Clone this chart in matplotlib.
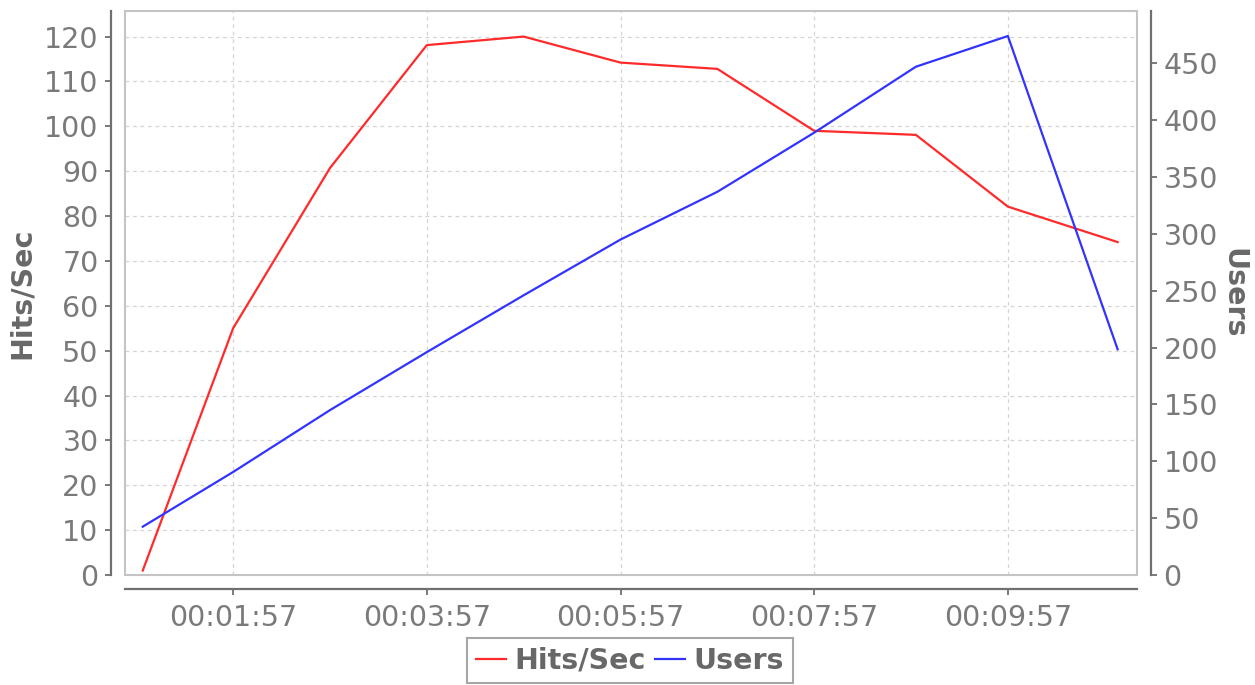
import matplotlib
matplotlib.use('Agg')
import matplotlib.pyplot as plt
from matplotlib.patches import Rectangle

# elapsed seconds for each sample
seconds = [61, 117, 177, 237, 297, 357, 417, 477, 540, 597, 665]
hits_per_sec = [1.0, 55.0, 90.7, 118.1, 120.0, 114.2, 112.8, 99.0, 98.1, 82.1, 74.2]
users = [42.5, 90.6, 145, 196, 246, 295, 337, 389, 447, 474, 198.5]

xtick_pos = [117, 237, 357, 477, 597]
xtick_labels = ['00:01:57', '00:03:57', '00:05:57', '00:07:57', '00:09:57']
left_ticks = list(range(0, 121, 10))
right_ticks = list(range(0, 451, 50))

text_grey = '#7a7a7a'
label_grey = '#686868'
spine_grey = '#707070'
fs = 20.5

fig = plt.figure(figsize=(12.55, 6.85), dpi=100)
ax = fig.add_axes([125 / 1255, 1 - 575 / 685, (1137 - 125) / 1255, (575 - 11) / 685])
ax2 = ax.twinx()

l1, = ax.plot(seconds, hits_per_sec, color='#ff2a2a', lw=1.6, label='Hits/Sec', zorder=3)
l2, = ax2.plot(seconds, users, color='#3333ff', lw=1.6, label='Users', zorder=3)

ax.set_xlim(50, 677)
ax.set_ylim(0, 125.7)
ax2.set_ylim(0, 496)

ax.set_xticks(xtick_pos)
ax.set_xticklabels(xtick_labels)
ax.set_yticks(left_ticks)
ax2.set_yticks(right_ticks)

# grid only from left axis
ax.grid(True, color='#d4d4d4', ls=(0, (3, 3)), lw=0.9)
ax.set_axisbelow(True)

# offset axis lines, light frame around the plot area
for a in (ax, ax2):
    for s in a.spines.values():
        s.set_visible(False)
ax.spines['left'].set_visible(True)
ax.spines['left'].set_position(('outward', 10))
ax.spines['bottom'].set_visible(True)
ax.spines['bottom'].set_position(('outward', 10))
ax2.spines['right'].set_visible(True)
ax2.spines['right'].set_position(('outward', 10))
for s in (ax.spines['left'], ax.spines['bottom'], ax2.spines['right']):
    s.set_color(spine_grey)
    s.set_linewidth(1.6)
ax.add_patch(Rectangle((0, 0), 1, 1, transform=ax.transAxes, fill=False,
                       ec='#c4c4c4', lw=1.5, clip_on=False, zorder=1))

ax.tick_params(axis='y', length=4, width=1.3, color=spine_grey, labelsize=fs,
               labelcolor=text_grey, pad=5)
ax.tick_params(axis='x', length=4, width=1.3, color=spine_grey, labelsize=fs,
               labelcolor=text_grey, pad=7)
ax2.tick_params(axis='y', length=4, width=1.3, color=spine_grey, labelsize=fs,
                labelcolor=text_grey, pad=5)

ax.set_ylabel('Hits/Sec', fontsize=fs, fontweight='bold', color=label_grey, labelpad=6)
ax2.set_ylabel('Users', fontsize=fs, fontweight='bold', color=label_grey,
               rotation=270, labelpad=21)

leg = fig.legend(handles=[l1, l2], loc='upper center', bbox_to_anchor=(630 / 1255, 1 - 638 / 685),
                 ncol=2, frameon=True, fancybox=False,
                 prop={'weight': 'bold', 'size': fs},
                 handlelength=1.05, handletextpad=0.3, columnspacing=0.35,
                 borderpad=0.3, borderaxespad=0)
leg.get_frame().set_edgecolor('#909090')
leg.get_frame().set_linewidth(1.5)
for t in leg.get_texts():
    t.set_color(label_grey)

fig.savefig('out.png', dpi=100)
